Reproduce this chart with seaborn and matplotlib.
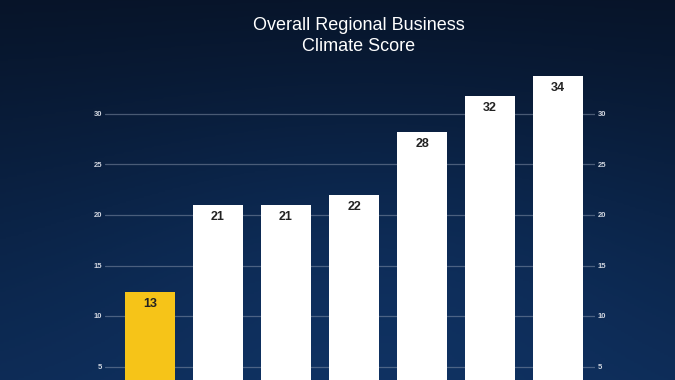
import numpy as np
import pandas as pd
import matplotlib
matplotlib.use("Agg")
import matplotlib.pyplot as plt
import seaborn as sns
from matplotlib.colors import LinearSegmentedColormap

# ---- data ----
categories = ["Region A", "Region B", "Region C", "Region D", "Region E", "Region F", "Region G"]
values = [12.4, 21.0, 21.0, 22.0, 28.2, 31.8, 33.8]
value_labels = ["13", "21", "21", "22", "28", "32", "34"]
bar_colors = ["#F6C418", "#FFFFFF", "#FFFFFF", "#FFFFFF", "#FFFFFF", "#FFFFFF", "#FFFFFF"]
y_ticks = [5, 10, 15, 20, 25, 30]
title_text = "Overall Regional Business\nClimate Score"

sns.set_theme(style="white")
plt.rcParams["font.family"] = ["Liberation Sans", "DejaVu Sans"]

fig = plt.figure(figsize=(6.75, 3.8), dpi=100)

# background gradient
bg = fig.add_axes([0, 0, 1, 1], zorder=-10)
bg.axis("off")
yy, xx = np.mgrid[0:1:200j, 0:1:360j]
g = 0.55 * yy + 0.25 * np.exp(-(((xx - 0.55) / 0.45) ** 2 + ((yy - 0.75) / 0.5) ** 2))
cmap = LinearSegmentedColormap.from_list("navy", ["#071429", "#0b2448", "#103466"])
bg.imshow(g, cmap=cmap, aspect="auto", extent=[0, 1, 0, 1], origin="upper", vmin=0, vmax=0.8)
bg.set_xlim(0, 1)
bg.set_ylim(0, 1)

df = pd.DataFrame({"category": categories, "value": values})

ax = fig.add_axes([105 / 675, -37 / 380, 490 / 675, 404 / 380])
ax.set_facecolor("none")
sns.barplot(data=df, x="category", y="value", hue="category", palette=bar_colors,
            legend=False, width=0.73, ax=ax, saturation=1, zorder=3, linewidth=0)
ax.set_ylim(0, 40)
ax.set_xlim(-0.662, 6.544)
ax.set_yticks(y_ticks)
ax.set_yticklabels([str(t) for t in y_ticks])
ax.yaxis.grid(True, color="#8a97ad", linewidth=0.9, alpha=0.5, zorder=0)
ax.set_axisbelow(True)
for s in ax.spines.values():
    s.set_visible(False)
ax.set_xlabel("")
ax.set_ylabel("")
ax.set_xticks([])
ax.tick_params(axis="y", length=0, labelleft=True, labelright=True, pad=2,
               labelsize=5.5, labelcolor="#d0d5df")
for lbl in ax.get_yticklabels():
    lbl.set_fontweight("bold")

for i, (v, t) in enumerate(zip(values, value_labels)):
    ax.annotate(t, xy=(i, v), xytext=(0, -12), textcoords="offset pixels",
                ha="center", va="center",
                fontsize=9, fontweight="bold", color="#222222", zorder=5)

fig.text(359 / 675, 1 - 36 / 380, title_text, ha="center", va="center",
         fontsize=13, color="#ffffff", linespacing=1.35)

fig.savefig("out.png", dpi=100)
